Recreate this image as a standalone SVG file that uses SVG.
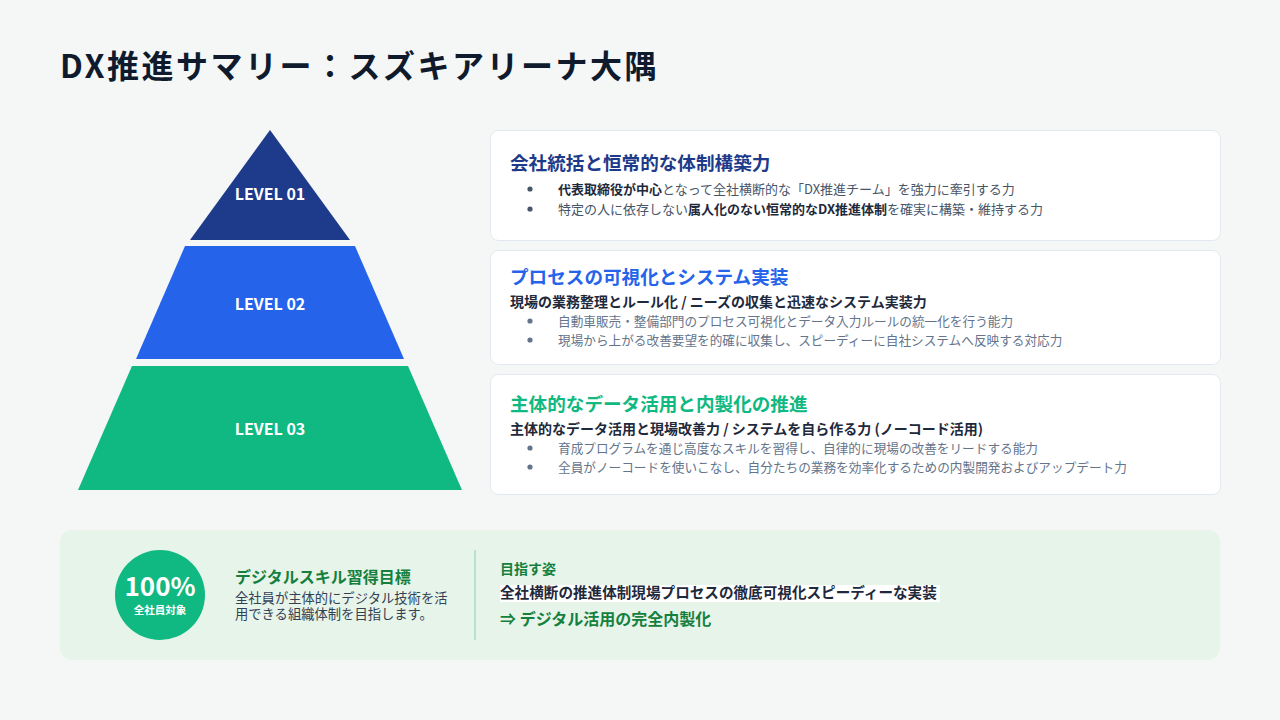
<svg xmlns="http://www.w3.org/2000/svg" width="1280" height="720" viewBox="0 0 1280 720">
<style>
text{font-family:"Noto Sans CJK JP","Noto Sans",sans-serif;}
.title{font-size:32px;font-weight:700;fill:#0f1b2d;letter-spacing:2.5px;}
.lvl{font-size:16px;font-weight:700;fill:#ffffff;text-anchor:middle;}
.card{fill:#ffffff;stroke:#e2e8f0;stroke-width:1;}
.ct{font-size:18.6px;font-weight:700;}
.sub{font-size:14px;font-weight:700;fill:#1e293b;}
.b1{font-size:13px;fill:#475569;}
.b2{font-size:12.65px;fill:#64748b;}
.bd{font-weight:700;fill:#1e293b;}
.dot1{fill:#475569;}
.dot2{fill:#64748b;}
</style>
<rect width="1280" height="720" fill="#f5f7f7"/>
<text class="title" x="60" y="78">DX推進サマリー：スズキアリーナ大隅</text>

<g id="pyramid">
  <g id="level1">
    <polygon points="270,130 350,240 190,240" fill="#1e3a8a"/>
    <text class="lvl" x="270" y="200">LEVEL 01</text>
  </g>
  <g id="level2">
    <polygon points="185,246 355,246 404,359 136,359" fill="#2563eb"/>
    <text class="lvl" x="270" y="310">LEVEL 02</text>
  </g>
  <g id="level3">
    <polygon points="132,366 408,366 462,490 78,490" fill="#10b981"/>
    <text class="lvl" x="270" y="435">LEVEL 03</text>
  </g>
</g>

<g id="card1">
  <rect class="card" x="490.5" y="130.5" width="730" height="110" rx="8"/>
  <text class="ct" x="510" y="170" fill="#1e3a8a">会社統括と恒常的な体制構築力</text>
  <circle class="dot1" cx="530" cy="189" r="2.6"/>
  <text class="b1" x="558" y="193.5"><tspan class="bd">代表取締役が中心</tspan>となって全社横断的な「DX推進チーム」を強力に牽引する力</text>
  <circle class="dot1" cx="530" cy="209" r="2.6"/>
  <text class="b1" x="558" y="213.5" font-size="13.3">特定の人に依存しない<tspan class="bd">属人化のない恒常的なDX推進体制</tspan>を確実に構築・維持する力</text>
</g>

<g id="card2">
  <rect class="card" x="490.5" y="250.5" width="730" height="114" rx="8"/>
  <text class="ct" x="510" y="284" fill="#2563eb">プロセスの可視化とシステム実装</text>
  <text class="sub" x="510" y="307">現場の業務整理とルール化 / ニーズの収集と迅速なシステム実装力</text>
  <circle class="dot2" cx="530" cy="321" r="2.6"/>
  <text class="b2" x="558" y="325.5">自動車販売・整備部門のプロセス可視化とデータ入力ルールの統一化を行う能力</text>
  <circle class="dot2" cx="530" cy="340" r="2.6"/>
  <text class="b2" x="558" y="344.5">現場から上がる改善要望を的確に収集し、スピーディーに自社システムへ反映する対応力</text>
</g>

<g id="card3">
  <rect class="card" x="490.5" y="374.5" width="730" height="120" rx="8"/>
  <text class="ct" x="510" y="411" fill="#10b981">主体的なデータ活用と内製化の推進</text>
  <text class="sub" x="510" y="434">主体的なデータ活用と現場改善力 / システムを自ら作る力 (ノーコード活用)</text>
  <circle class="dot2" cx="530" cy="448" r="2.6"/>
  <text class="b2" x="558" y="452.5">育成プログラムを通じ高度なスキルを習得し、自律的に現場の改善をリードする能力</text>
  <circle class="dot2" cx="530" cy="467" r="2.6"/>
  <text class="b2" x="558" y="471.5">全員がノーコードを使いこなし、自分たちの業務を効率化するための内製開発およびアップデート力</text>
</g>

<g id="summary">
  <rect x="60" y="530" width="1160" height="130" rx="12" fill="#e6f4ea"/>
  <circle cx="160" cy="595" r="45" fill="#10b981"/>
  <text x="160" y="596" font-size="26" font-weight="700" fill="#ffffff" text-anchor="middle">100%</text>
  <text x="160" y="614" font-size="10.5" font-weight="700" fill="#ffffff" text-anchor="middle">全社員対象</text>
  <text x="235" y="583" font-size="16" font-weight="700" fill="#15803d">デジタルスキル習得目標</text>
  <text x="235" y="602.5" font-size="13.3" fill="#334155">全社員が主体的にデジタル技術を活</text>
  <text x="235" y="618.5" font-size="13.3" fill="#334155">用できる組織体制を目指します。</text>
  <rect x="474" y="550" width="2" height="90" fill="#b7e4c7"/>
  <text x="500" y="574" font-size="14" font-weight="700" fill="#15803d">目指す姿</text>
  <rect x="500" y="585" width="440" height="17" fill="#ffffff"/>
  <text x="500" y="598" font-size="14.6" font-weight="700" fill="#1e293b">全社横断の推進体制現場プロセスの徹底可視化スピーディーな実装</text>
  <text x="500" y="625" font-size="16" font-weight="700" fill="#15803d">⇒ デジタル活用の完全内製化</text>
</g>
</svg>
